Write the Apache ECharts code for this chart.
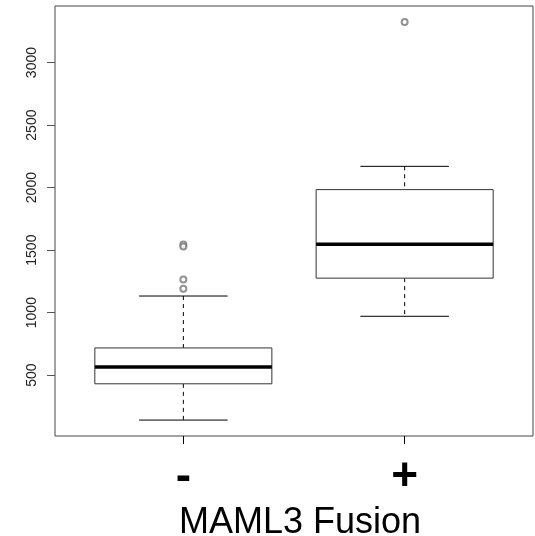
<!DOCTYPE html>
<html>
<head>
<meta charset="utf-8">
<script src="https://cdn.jsdelivr.net/npm/echarts@6/dist/echarts.min.js"></script>
<style>html,body{margin:0;padding:0;background:#fff;}#c{width:535px;height:536px;}</style>
</head>
<body>
<div id="c"></div>
<script>
// Categories and box statistics
var categories = ['-', '+'];
var positions = [1, 2];
var whiskerLow = [141, 971];
var q1 = [431, 1276];
var median = [566, 1548];
var q3 = [718, 1984];
var whiskerHigh = [1133, 2170];
// Outliers: [category position, value]
var outlierPos = [1, 1, 1, 1, 2];
var outlierVal = [1545, 1530, 1266, 1192, 3325];
var yTicks = [500, 1000, 1500, 2000, 2500, 3000];
var xTitle = 'MAML3 Fusion';

var boxData = positions.map(function (p, i) {
  return [p, whiskerLow[i], q1[i], median[i], q3[i], whiskerHigh[i]];
});
var outlierData = outlierPos.map(function (p, i) { return [p, outlierVal[i]]; });

// R-like axis range: data range extended by 4%
var allVals = whiskerLow.concat(whiskerHigh, outlierVal);
var yMinData = Math.min.apply(null, allVals), yMaxData = Math.max.apply(null, allVals);
var yPad = (yMaxData - yMinData) * 0.04;
var xMinData = Math.min.apply(null, positions) - 0.5, xMaxData = Math.max.apply(null, positions) + 0.5;
var xPad = (xMaxData - xMinData) * 0.04;

var chart = echarts.init(document.getElementById('c'), null, {renderer: 'canvas'});
var FONT = '"Liberation Sans", Arial, Helvetica, sans-serif';

function renderBox(params, api) {
  var x = api.value(0);
  var lo = api.value(1), a = api.value(2), m = api.value(3), b = api.value(4), hi = api.value(5);
  var bw = api.size([0.8, 0])[0];
  var sw = bw / 2;
  var pLo = api.coord([x, lo]), pA = api.coord([x, a]), pM = api.coord([x, m]);
  var pB = api.coord([x, b]), pHi = api.coord([x, hi]);
  var cx = pLo[0];
  var lineStyle = {stroke: '#000', lineWidth: 1};
  return {
    type: 'group',
    children: [
      {type: 'line', shape: {x1: cx, y1: pHi[1], x2: cx, y2: pB[1]}, style: {stroke: '#000', lineWidth: 1, lineDash: [4, 4]}},
      {type: 'line', shape: {x1: cx, y1: pA[1], x2: cx, y2: pLo[1]}, style: {stroke: '#000', lineWidth: 1, lineDash: [4, 4]}},
      {type: 'line', shape: {x1: cx - sw / 2, y1: pHi[1], x2: cx + sw / 2, y2: pHi[1]}, style: lineStyle},
      {type: 'line', shape: {x1: cx - sw / 2, y1: pLo[1], x2: cx + sw / 2, y2: pLo[1]}, style: lineStyle},
      {type: 'rect', shape: {x: cx - bw / 2, y: pB[1], width: bw, height: pA[1] - pB[1]}, style: {fill: '#fff', stroke: '#333', lineWidth: 1}},
      {type: 'line', shape: {x1: cx - bw / 2, y1: pM[1], x2: cx + bw / 2, y2: pM[1]}, style: {stroke: '#000', lineWidth: 3.5}}
    ]
  };
}

chart.setOption({
  animation: false,
  backgroundColor: '#fff',
  grid: {left: 55, right: 2, top: 6, bottom: 100, outerBoundsMode: 'none', containLabel: false, show: true, borderColor: '#444', borderWidth: 1, backgroundColor: 'transparent'},
  xAxis: {
    type: 'value',
    min: xMinData - xPad,
    max: xMaxData + xPad,
    splitLine: {show: false},
    axisLine: {show: false},
    axisTick: {show: true, length: 8, inside: false, customValues: positions, lineStyle: {color: '#000'}},
    axisLabel: {
      customValues: positions,
      margin: 18,
      formatter: function (v) { return categories[positions.indexOf(v)]; },
      fontFamily: FONT, fontSize: 46, fontWeight: 'bold', color: '#000'
    },
    name: xTitle,
    nameLocation: 'middle',
    nameGap: 67,
    nameTextStyle: {fontFamily: FONT, fontSize: 36, color: '#000', padding: [0, 0, 0, 12]}
  },
  yAxis: {
    type: 'value',
    min: yMinData - yPad,
    max: yMaxData + yPad,
    splitLine: {show: false},
    axisLine: {show: false},
    axisTick: {show: true, length: 8, customValues: yTicks, lineStyle: {color: '#555'}},
    axisLabel: {
      customValues: yTicks,
      rotate: 90,
      margin: 16,
      formatter: function (v) { return String(v); },
      fontFamily: FONT, fontSize: 14, color: '#222'
    }
  },
  series: [
    {
      type: 'custom',
      renderItem: renderBox,
      encode: {x: 0, y: [1, 2, 3, 4, 5]},
      data: boxData,
      z: 2
    },
    {
      type: 'scatter',
      symbol: 'emptyCircle',
      symbolSize: 6,
      itemStyle: {color: '#777', borderColor: '#777', borderWidth: 0.9},
      data: outlierData,
      z: 3
    }
  ]
});
</script>
</body>
</html>
